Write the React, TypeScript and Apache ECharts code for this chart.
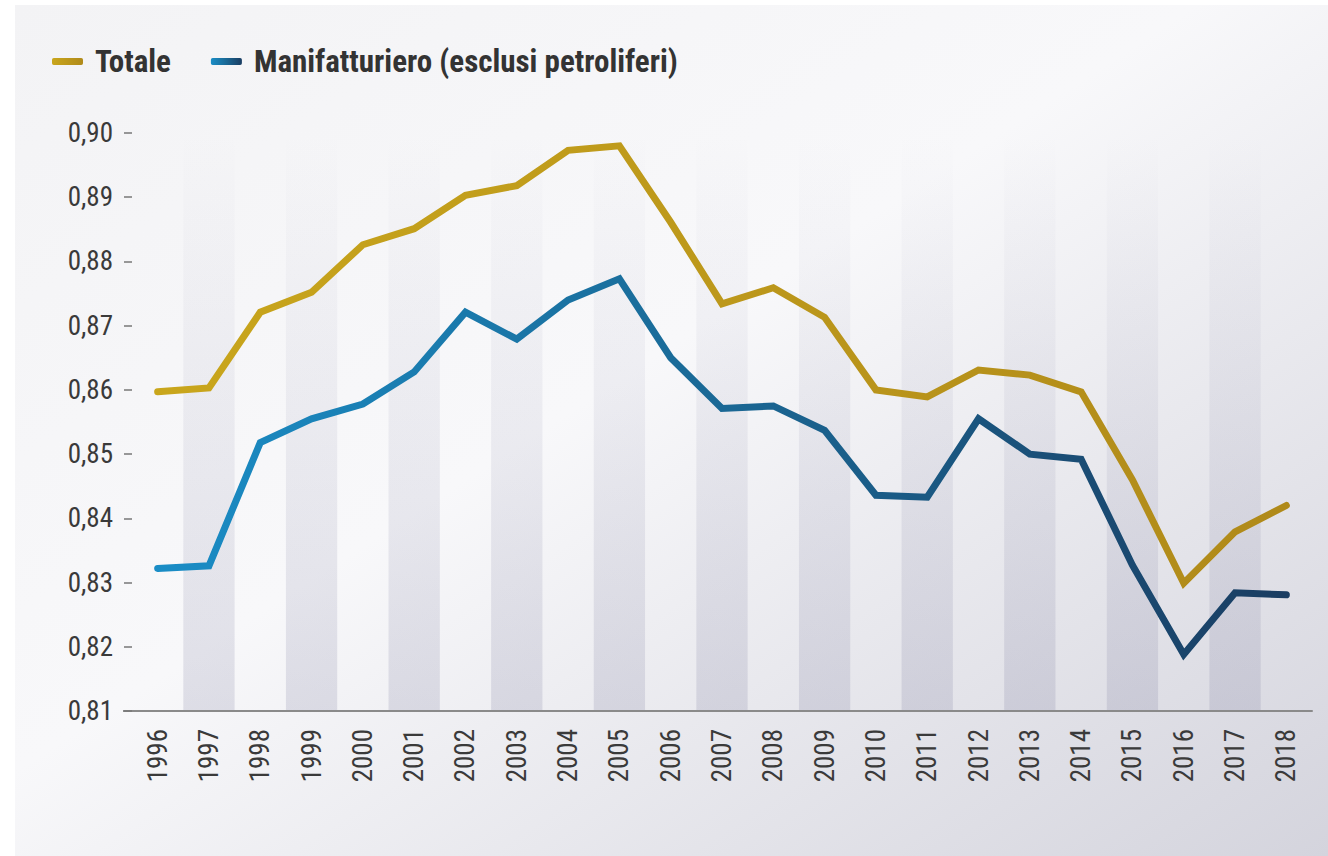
import React, { useEffect, useRef } from "react";
import * as echarts from "echarts";

const years = ["1996","1997","1998","1999","2000","2001","2002","2003","2004","2005","2006","2007","2008","2009","2010","2011","2012","2013","2014","2015","2016","2017","2018"];
const totale = [0.8597,0.8603,0.8721,0.8752,0.8826,0.8851,0.8903,0.8918,0.8973,0.8980,0.8861,0.8734,0.8759,0.8713,0.8600,0.8589,0.8631,0.8623,0.8597,0.8460,0.8299,0.8379,0.8420];
const manifatturiero = [0.8322,0.8326,0.8518,0.8555,0.8578,0.8628,0.8721,0.8679,0.8740,0.8773,0.8650,0.8571,0.8575,0.8537,0.8436,0.8433,0.8555,0.8500,0.8492,0.8327,0.8188,0.8284,0.8281];
const seriesNames = ["Totale", "Manifatturiero (esclusi petroliferi)"];
const yMin = 0.81;
const yMax = 0.9;
const yStep = 0.01;

const FONT = "'Roboto Condensed', 'Liberation Sans Narrow', 'Arial Narrow', 'DejaVu Sans Condensed', Roboto, sans-serif";

export default function App() {
  const ref = useRef<HTMLDivElement>(null);
  useEffect(() => {
    if (!ref.current) return;
    const chart = echarts.init(ref.current, undefined, { renderer: "svg" });
    const gold = new echarts.graphic.LinearGradient(0, 0, 1, 0, [
      { offset: 0, color: "#c9a61c" },
      { offset: 1, color: "#b08a1a" },
    ]);
    const blue = new echarts.graphic.LinearGradient(0, 0, 1, 0, [
      { offset: 0, color: "#1a8dc6" },
      { offset: 0.45, color: "#1a6c9a" },
      { offset: 1, color: "#1a3d62" },
    ]);
    const band = new echarts.graphic.LinearGradient(0, 0, 0, 1, [
      { offset: 0, color: "rgba(120,120,155,0.0)" },
      { offset: 1, color: "rgba(120,120,155,0.2)" },
    ]);
    chart.setOption({
      animation: false,
      backgroundColor: "#ffffff",
      graphic: [
        {
          type: "rect",
          z: -100,
          silent: true,
          shape: { x: 15, y: 5, width: 1313, height: 851 },
          style: {
            fill: new echarts.graphic.LinearGradient(0, 0, 1, 1, [
              { offset: 0, color: "#f3f3f5" },
              { offset: 0.45, color: "#f8f8fa" },
              { offset: 1, color: "#d4d4dd" },
            ]),
          },
        },
        {
          type: "line",
          silent: true,
          shape: { x1: 123, y1: 711, x2: 132, y2: 711 },
          style: { stroke: "#8a8a8a", lineWidth: 2 },
        },
      ],
      legend: {
        left: 47,
        top: 41,
        itemWidth: 31,
        itemHeight: 7,
        itemGap: 40,
        icon: "roundRect",
        textStyle: {
          fontFamily: FONT,
          fontWeight: "bold",
          fontSize: 31,
          color: "#333333",
          padding: [0, 0, 0, 7],
        },
        data: seriesNames,
      },
      grid: { left: 132, right: 16, top: 133, bottom: 145, containLabel: false },
      xAxis: {
        type: "category",
        data: years,
        boundaryGap: true,
        axisLine: { lineStyle: { color: "#8a8a8a", width: 2 } },
        axisTick: { length: 17, lineStyle: { color: "#8a8a8a", width: 2 } },
        axisLabel: {
          rotate: 90,
          margin: 18,
          fontFamily: FONT,
          fontSize: 27,
          color: "#3a3a3a",
        },
        splitArea: { show: true, areaStyle: { color: ["rgba(0,0,0,0)", band] } },
        splitLine: { show: false },
      },
      yAxis: {
        type: "value",
        min: yMin,
        max: yMax,
        interval: yStep,
        axisLine: { show: false },
        axisTick: { show: true, length: 8, lineStyle: { color: "#777777", width: 1.5 } },
        splitLine: { show: false },
        axisLabel: {
          margin: 19,
          fontFamily: FONT,
          fontSize: 27,
          color: "#3a3a3a",
          formatter: (v: number) => v.toFixed(2).replace(".", ","),
        },
      },
      series: [
        {
          name: seriesNames[0],
          type: "line",
          data: totale,
          symbol: "none",
          itemStyle: { color: gold },
          lineStyle: { color: gold, width: 7, cap: "round", join: "miter" },
        },
        {
          name: seriesNames[1],
          type: "line",
          data: manifatturiero,
          symbol: "none",
          itemStyle: { color: blue },
          lineStyle: { color: blue, width: 7, cap: "round", join: "miter" },
        },
      ],
    });
    return () => chart.dispose();
  }, []);
  return <div ref={ref} style={{ width: 1328, height: 856, position: "absolute", left: 0, top: 0 }} />;
}
